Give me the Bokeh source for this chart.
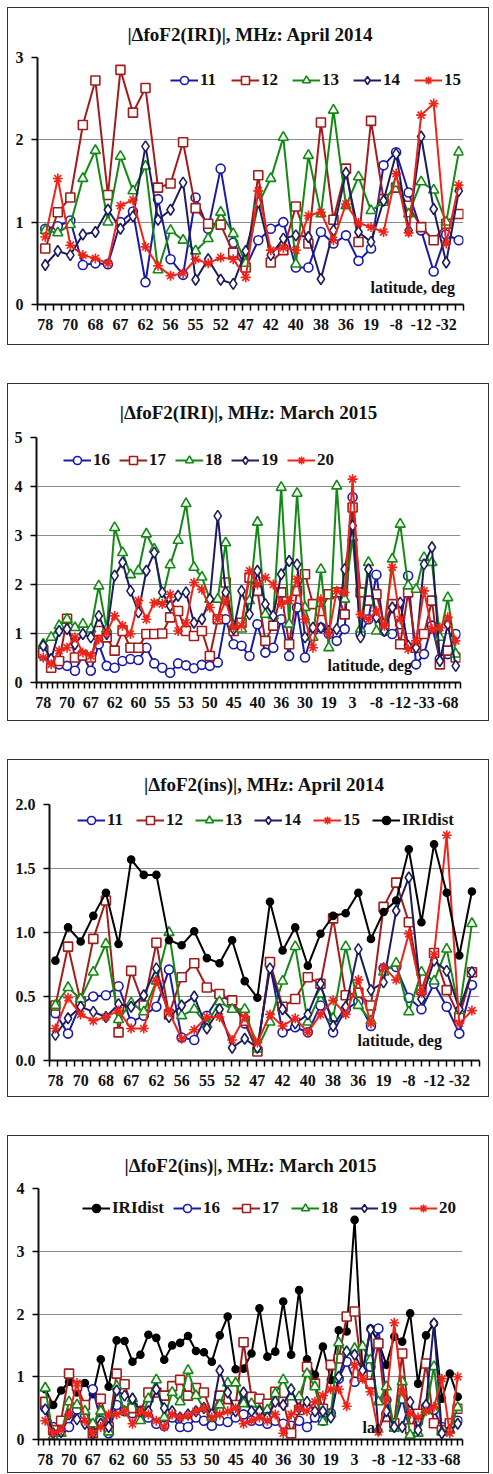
from bokeh.plotting import figure
from bokeh.layouts import column
from bokeh.models import Range1d, FixedTicker, Label, NumeralTickFormatter
from bokeh.embed import file_html
from bokeh.resources import INLINE
import numpy as np

FONT = "Liberation Serif"

# ---------------- tick labels (latitude, deg) ----------------
lat_2014 = ["78", "70", "68", "67", "62", "56", "55", "52", "47", "42", "40",
            "38", "36", "19", "-8", "-12", "-32"]
lat_2015 = ["78", "70", "67", "62", "60", "55", "53", "50", "45", "40", "36",
            "30", "19", "3", "-8", "-12", "-33", "-68"]

# ---------------- |dfoF2(IRI)|, April 2014 ----------------
iri14_11 = [0.92, 0.95, 1.02, 0.48, 0.50, 0.49, 1.00, 1.13, 0.27, 1.28,
            0.55, 0.36, 1.30, 0.92, 1.65, 0.75, 0.45, 0.78, 0.92, 1.00,
            0.45, 0.45, 0.88, 0.74, 0.84, 0.53, 0.68, 1.69, 1.85, 1.36,
            0.90, 0.40, 0.85, 0.78]
iri14_12 = [0.68, 1.12, 1.30, 2.18, 2.72, 1.33, 2.85, 2.33, 2.63, 1.42,
            1.47, 1.97, 1.17, 0.98, 0.97, 0.63, 0.45, 1.57, 0.51, 0.66,
            1.19, 0.74, 2.21, 1.03, 1.65, 0.76, 2.23, 1.28, 1.42, 1.20,
            0.94, 0.78, 0.98, 1.10]
iri14_13 = [0.90, 0.87, 0.97, 1.53, 1.87, 1.00, 1.80, 1.38, 1.68, 0.42,
            0.90, 0.78, 0.65, 0.80, 1.12, 0.86, 0.50, 1.22, 1.53, 2.03,
            0.49, 1.81, 1.10, 2.36, 1.20, 1.55, 1.14, 1.24, 1.47, 1.10,
            1.49, 1.39, 1.00, 1.85]
iri14_14 = [0.48, 0.65, 0.60, 0.85, 0.88, 1.15, 0.92, 1.07, 1.92, 1.03,
            1.15, 1.48, 0.30, 0.55, 0.30, 0.25, 0.65, 1.24, 0.60, 0.80,
            0.84, 0.82, 0.31, 0.90, 1.60, 0.88, 0.76, 1.26, 1.83, 0.90,
            2.04, 1.16, 0.51, 1.38]
iri14_15 = [0.82, 1.53, 0.72, 0.60, 0.56, 0.50, 1.20, 1.27, 0.70, 0.47,
            0.35, 0.38, 0.55, 0.50, 0.57, 0.55, 0.33, 1.38, 0.66, 0.69,
            0.66, 1.08, 1.12, 0.78, 1.22, 0.99, 0.94, 0.88, 1.59, 0.87,
            2.30, 2.44, 0.74, 1.45]

# ---------------- |dfoF2(IRI)|, March 2015 ----------------
iri15_16 = [0.55, 0.30, 0.37, 0.34, 0.24, 0.55, 0.24, 0.78, 0.34, 0.30,
            0.44, 0.48, 0.46, 0.71, 0.39, 0.30, 0.20, 0.39, 0.35, 0.29,
            0.36, 0.34, 0.41, 1.29, 0.78, 0.75, 0.54, 1.19, 0.61, 0.71,
            1.29, 0.54, 1.53, 0.51, 1.05, 1.12, 0.99, 0.85, 1.09, 3.78,
            0.99, 1.29, 2.20, 1.05, 0.99, 1.19, 2.18, 0.37, 0.58, 1.16,
            0.48, 0.58, 0.99]
iri15_17 = [0.61, 0.30, 0.44, 1.30, 0.51, 0.55, 0.51, 1.05, 0.92, 0.65,
            1.05, 0.71, 0.71, 0.99, 0.99, 1.00, 1.33, 1.46, 1.05, 0.95,
            1.05, 0.54, 1.29, 2.04, 1.05, 1.22, 2.14, 1.87, 0.85, 1.16,
            1.84, 0.78, 1.87, 2.21, 1.60, 1.46, 1.80, 1.84, 1.39, 3.57,
            1.84, 1.67, 1.80, 1.19, 1.60, 0.78, 1.84, 0.71, 0.99, 1.67,
            0.37, 0.65, 0.51]
iri15_18 = [0.78, 0.92, 1.16, 1.29, 1.12, 1.19, 1.09, 1.97, 1.09, 3.16,
            2.65, 2.20, 2.28, 3.03, 2.72, 1.70, 2.40, 2.90, 3.65, 2.35,
            2.15, 1.70, 1.70, 2.85, 1.15, 1.09, 1.67, 3.27, 1.39, 1.36,
            3.98, 1.19, 3.86, 1.53, 0.92, 2.31, 0.71, 4.01, 1.70, 2.96,
            1.09, 2.45, 1.05, 1.05, 2.52, 3.23, 1.97, 1.90, 2.55, 2.45,
            0.92, 1.73, 0.58]
iri15_19 = [0.75, 0.48, 1.05, 1.09, 0.78, 0.99, 0.92, 1.36, 0.99, 2.18,
            2.45, 1.87, 1.43, 2.28, 2.65, 1.84, 1.56, 1.77, 1.84, 1.22,
            1.29, 1.70, 3.40, 1.84, 1.09, 1.87, 1.39, 2.28, 1.60, 1.36,
            2.21, 2.48, 2.41, 0.92, 1.12, 1.12, 1.05, 1.09, 2.31, 3.20,
            0.92, 2.31, 1.33, 1.05, 1.53, 1.63, 0.75, 0.71, 2.41, 2.76,
            0.44, 1.19, 0.34]
iri15_20 = [0.51, 0.37, 0.65, 0.71, 0.92, 0.61, 0.54, 0.88, 1.02, 1.36,
            1.16, 0.99, 1.67, 1.29, 1.63, 1.60, 1.80, 1.05, 1.22, 2.04,
            1.90, 1.53, 1.29, 1.67, 1.12, 1.16, 2.28, 2.00, 2.14, 2.00,
            1.60, 1.67, 2.11, 1.29, 0.71, 1.70, 0.99, 1.87, 1.84, 4.15,
            1.39, 1.29, 1.46, 1.16, 2.35, 1.29, 0.68, 0.85, 1.87, 1.09,
            1.12, 1.33, 0.85]

# ---------------- |dfoF2(ins)|, April 2014 ----------------
ins14_11 = [0.37, 0.21, 0.44, 0.50, 0.51, 0.58, 0.30, 0.35, 0.42, 0.71,
            0.18, 0.16, 0.35, 0.51, 0.46, 0.29, 0.08, 0.75, 0.22, 0.26,
            0.22, 0.43, 0.22, 0.40, 0.46, 0.27, 0.72, 0.73, 0.49, 0.40,
            0.60, 0.42, 0.21, 0.59]
ins14_12 = [0.43, 0.89, 0.46, 0.95, 1.25, 0.22, 0.70, 0.43, 0.92, 0.36,
            0.65, 0.76, 0.57, 0.52, 0.47, 0.31, 0.07, 0.77, 0.42, 0.48,
            0.65, 0.60, 1.11, 0.51, 0.53, 0.43, 1.20, 1.39, 1.08, 0.55,
            0.84, 0.55, 0.34, 0.69]
ins14_13 = [0.43, 0.57, 0.48, 0.69, 0.91, 0.32, 0.45, 0.38, 0.62, 1.00,
            0.35, 0.40, 0.28, 0.46, 0.40, 0.40, 0.09, 0.30, 0.62, 0.89,
            0.30, 0.52, 0.33, 0.89, 0.43, 0.31, 0.69, 0.76, 0.38, 0.69,
            0.62, 0.87, 0.39, 1.07]
ins14_14 = [0.20, 0.33, 0.42, 0.38, 0.34, 0.44, 0.42, 0.51, 0.72, 0.34,
            0.43, 0.50, 0.25, 0.40, 0.10, 0.17, 0.10, 0.72, 0.40, 0.29,
            0.36, 0.60, 0.27, 0.42, 0.87, 0.55, 0.61, 1.17, 1.43, 0.48,
            0.78, 0.70, 0.40, 0.69]
ins14_15 = [0.25, 0.49, 0.36, 0.31, 0.34, 0.39, 0.25, 0.25, 0.62, 0.38,
            0.17, 0.24, 0.34, 0.34, 0.16, 0.34, 0.14, 0.36, 0.27, 0.33,
            0.22, 0.36, 0.47, 0.36, 0.63, 0.29, 0.73, 0.63, 0.99, 0.53,
            0.83, 1.76, 0.29, 0.39]
ins14_iri = [0.78, 1.04, 0.93, 1.13, 1.31, 0.91, 1.57, 1.45, 1.45, 0.94,
             0.90, 1.01, 0.80, 0.76, 0.94, 0.62, 0.49, 1.24, 0.86, 1.04,
             0.74, 0.99, 1.13, 1.15, 1.31, 0.95, 1.16, 1.25, 1.65, 1.08,
             1.69, 1.31, 0.82, 1.32]

# ---------------- |dfoF2(ins)|, March 2015 ----------------
ins15_iri = [0.80, 0.55, 0.78, 0.92, 0.75, 0.90, 0.72, 1.28, 0.84, 1.58,
             1.57, 1.24, 1.35, 1.67, 1.62, 1.27, 1.50, 1.54, 1.65, 1.41,
             1.39, 1.24, 1.66, 1.96, 1.12, 1.13, 1.37, 2.09, 1.32, 1.40,
             2.20, 1.35, 2.38, 1.28, 1.03, 1.48, 0.95, 1.74, 1.72, 3.50,
             1.05, 1.77, 1.56, 1.19, 1.64, 1.56, 2.01, 0.89, 1.66, 1.85,
             0.65, 1.05, 0.68]
ins15_16 = [0.50, 0.20, 0.15, 0.20, 0.48, 0.40, 0.80, 0.30, 0.10, 0.55,
            0.45, 0.42, 0.45, 0.35, 0.25, 0.22, 0.35, 0.20, 0.20, 0.35,
            0.30, 0.22, 0.30, 0.28, 0.35, 0.40, 0.30, 0.30, 0.25, 0.30,
            0.25, 0.22, 0.30, 0.20, 0.35, 0.30, 0.42, 0.97, 1.24, 0.92,
            1.00, 1.16, 1.77, 0.63, 0.23, 0.65, 0.12, 0.28, 0.52, 0.47,
            0.20, 0.26, 0.30]
ins15_17 = [0.60, 0.15, 0.30, 1.05, 0.85, 0.55, 0.10, 0.65, 0.20, 1.05,
            0.88, 0.50, 0.45, 0.75, 0.75, 0.70, 0.85, 0.95, 0.70, 0.82,
            0.75, 0.40, 0.70, 0.50, 0.55, 1.55, 0.68, 0.65, 0.57, 0.76,
            0.60, 0.10, 0.47, 1.16, 0.89, 0.49, 1.19, 1.29, 1.96, 2.04,
            1.00, 0.89, 1.53, 0.36, 0.26, 1.37, 0.18, 0.41, 1.21, 0.26,
            0.15, 0.26, 0.49]
ins15_18 = [0.82, 0.05, 0.10, 0.60, 0.55, 0.45, 0.25, 0.45, 0.12, 0.85,
            0.45, 0.65, 0.30, 0.65, 0.95, 0.35, 0.75, 0.60, 1.10, 0.70,
            0.50, 0.35, 0.55, 0.90, 0.90, 0.57, 0.57, 0.47, 0.47, 0.73,
            0.95, 0.68, 0.68, 1.05, 0.84, 0.28, 0.41, 1.54, 1.40, 1.45,
            1.48, 1.27, 0.60, 0.84, 0.18, 0.92, 0.07, 0.10, 0.47, 1.16,
            0.12, 0.15, 0.51]
ins15_19 = [0.48, 0.10, 0.12, 0.40, 0.32, 0.25, 0.10, 0.25, 0.20, 0.78,
            0.70, 0.65, 0.45, 0.45, 0.80, 0.50, 0.45, 0.35, 0.40, 0.45,
            0.50, 0.40, 1.10, 0.75, 0.45, 0.75, 0.45, 0.45, 0.35, 0.60,
            0.55, 0.80, 0.50, 0.60, 0.45, 0.45, 0.35, 1.00, 1.40, 1.35,
            1.10, 1.75, 0.15, 0.45, 0.20, 0.20, 0.60, 0.15, 0.55, 1.85,
            0.10, 0.15, 0.25]
ins15_20 = [0.30, 0.10, 0.15, 0.40, 0.90, 0.30, 0.10, 0.20, 0.40, 0.40,
            0.45, 0.25, 0.45, 0.40, 0.30, 0.20, 0.40, 0.35, 0.38, 0.45,
            0.50, 0.35, 0.40, 0.45, 0.50, 0.25, 0.30, 0.35, 0.30, 0.40,
            0.10, 0.40, 0.50, 0.45, 0.60, 0.70, 0.80, 0.80, 0.53, 1.19,
            0.97, 0.76, 0.12, 0.63, 1.86, 0.76, 0.41, 0.35, 0.45, 0.52,
            0.97, 0.10, 1.00]

# ---------------- styles ----------------
BLUE = "#1a1aa8"
DRED = "#a31c1c"
GREEN = "#138a13"
NAVY = "#1c1c5e"
RED = "#ee2418"
BLACK = "#000000"

STY = {
    "circle":   dict(color=BLUE, marker="circle", size=9),
    "square":   dict(color=DRED, marker="square", size=9),
    "triangle": dict(color=GREEN, marker="triangle", size=10),
    "diamond":  dict(color=NAVY, marker="diamond", size=11),
    "asterisk": dict(color=RED, marker="asterisk", size=10),
    "dot":      dict(color=BLACK, marker="circle", size=7),
}

LEFT = 45  # fixed left border of each figure (part of it is hidden)


def panel(title_text, series, tick_labels, step, x_lo, x_hi, n_minor,
          y_max, y_step, y_fmt, shift, right, top, bottom, title_standoff,
          title_lh, legend_xy, legend_spacing, note, note_xy):
    n = len(series[0][1])
    p = figure(width=480 + shift, height=336, output_backend="svg",
               toolbar_location=None,
               x_range=Range1d(x_lo, x_hi), y_range=Range1d(0, y_max),
               min_border_left=LEFT, min_border_right=right,
               min_border_top=top, min_border_bottom=bottom,
               margin=(0, 0, 0, -shift))
    p.title.text = title_text
    p.title.align = "center"
    p.title.text_font = FONT
    p.title.text_font_size = "19px"
    p.title.text_font_style = "bold"
    p.title.text_color = "#111111"
    p.title.text_line_height = title_lh
    p.title.standoff = title_standoff
    p.outline_line_color = None

    xs = list(range(n))
    for name, vals, key in series:
        st = STY[key]
        c = st["color"]
        p.line(xs, vals, line_color=c, line_width=2, legend_label=name)
        fill = c if key == "dot" else "white"
        p.scatter(xs, vals, marker=st["marker"], size=st["size"],
                  line_color=c, fill_color=fill, line_width=1.6,
                  legend_label=name)

    major = list(range(0, n, step))
    minor = [float(v) for v in np.linspace(x_lo, x_hi, n_minor + 1)]
    p.xaxis.ticker = FixedTicker(ticks=major, minor_ticks=minor)
    p.xaxis.major_label_overrides = {i: lab for i, lab in zip(major, tick_labels)}
    p.xaxis.major_tick_out = 0
    p.xaxis.major_tick_in = 0
    p.xaxis.minor_tick_out = 6
    p.xaxis.minor_tick_in = 0
    p.xaxis.minor_tick_line_width = 1.5
    p.xaxis.axis_line_width = 2
    p.xaxis.major_label_standoff = 8
    p.xgrid.visible = False

    yt = [round(k * y_step, 3) for k in range(int(round(y_max / y_step)) + 1)]
    p.yaxis.ticker = FixedTicker(ticks=yt, minor_ticks=[])
    p.yaxis.major_tick_out = 6
    p.yaxis.major_tick_in = 0
    p.yaxis.major_tick_line_width = 1.5
    p.yaxis.axis_line_width = 2
    p.yaxis.major_label_standoff = 8
    if y_fmt:
        p.yaxis.formatter = NumeralTickFormatter(format=y_fmt)
    p.ygrid.ticker = FixedTicker(ticks=yt)
    p.ygrid.grid_line_color = "#8c8c8c"
    p.ygrid.grid_line_width = 1

    for ax in (p.xaxis[0], p.yaxis[0]):
        ax.major_label_text_font = FONT
        ax.major_label_text_font_size = "16px"
        ax.major_label_text_font_style = "bold"
        ax.major_label_text_color = "#111111"
        ax.axis_line_color = "#111111"

    lg = p.legend[0]
    lg.location = legend_xy
    lg.orientation = "horizontal"
    lg.padding = 0
    lg.margin = 0
    lg.spacing = legend_spacing
    lg.glyph_width = 28
    lg.glyph_height = 20
    lg.label_standoff = 2
    lg.label_text_font = FONT
    lg.label_text_font_size = "17px"
    lg.label_text_font_style = "bold"
    lg.label_text_color = "#111111"
    lg.background_fill_alpha = 0
    lg.border_line_alpha = 0

    p.add_layout(Label(x=note_xy[0], y=note_xy[1], x_units="screen",
                       y_units="screen", text=note, text_font=FONT,
                       text_font_size="16px", text_font_style="bold",
                       text_color="#111111", text_baseline="middle"))
    # framed box around the whole chart; the unused left strip is clipped
    return column(p, width=482, height=338,
                  styles={"border": "1px solid #333", "overflow": "hidden",
                          "background": "white"})


p1 = panel("|\u0394foF2(IRI)|, MHz: April 2014",
           [("11", iri14_11, "circle"), ("12", iri14_12, "square"),
            ("13", iri14_13, "triangle"), ("14", iri14_14, "diamond"),
            ("15", iri14_15, "asterisk")],
           lat_2014, 2, -0.62, 33.38, 54, 3, 1, None,
           16, 9, 49, 40, 25, 1.0, (133, 214), 11, "latitude, deg", (333, 17))

p2 = panel("|\u0394foF2(IRI)|, MHz: March 2015",
           [("16", iri15_16, "circle"), ("17", iri15_17, "square"),
            ("18", iri15_18, "triangle"), ("19", iri15_19, "diamond"),
            ("20", iri15_20, "asterisk")],
           lat_2015, 3, -0.85, 52.6, 80, 5, 1, None,
           17, 11, 53, 38, 29, 1.0, (27, 212), 6, "latitude, deg", (291, 17))

p3 = panel("|\u0394foF2(ins)|, MHz: April 2014",
           [("11", ins14_11, "circle"), ("12", ins14_12, "square"),
            ("13", ins14_13, "triangle"), ("14", ins14_14, "diamond"),
            ("15", ins14_15, "asterisk"), ("IRIdist", ins14_iri, "dot")],
           lat_2014, 2, -0.47, 33.6, 52, 2.0, 0.5, "0.0",
           4, 5, 44, 36, 19, 1.2, (28, 230), 9, "latitude, deg", (308, 20))

p4 = panel("|\u0394foF2(ins)|, MHz: March 2015",
           [("IRIdist", ins15_iri, "dot"), ("16", ins15_16, "circle"),
            ("17", ins15_17, "square"), ("18", ins15_18, "triangle"),
            ("19", ins15_19, "diamond"), ("20", ins15_20, "asterisk")],
           lat_2015, 3, -0.85, 52.6, 80, 4, 1, None,
           15, 11, 52, 33, 25, 1.1, (44, 221), 9, "lat", (324, 12))

layout = column(p1, p2, p3, p4, spacing=38, margin=(7, 0, 0, 7))

open("out.html", "w").write(file_html(layout, INLINE))
